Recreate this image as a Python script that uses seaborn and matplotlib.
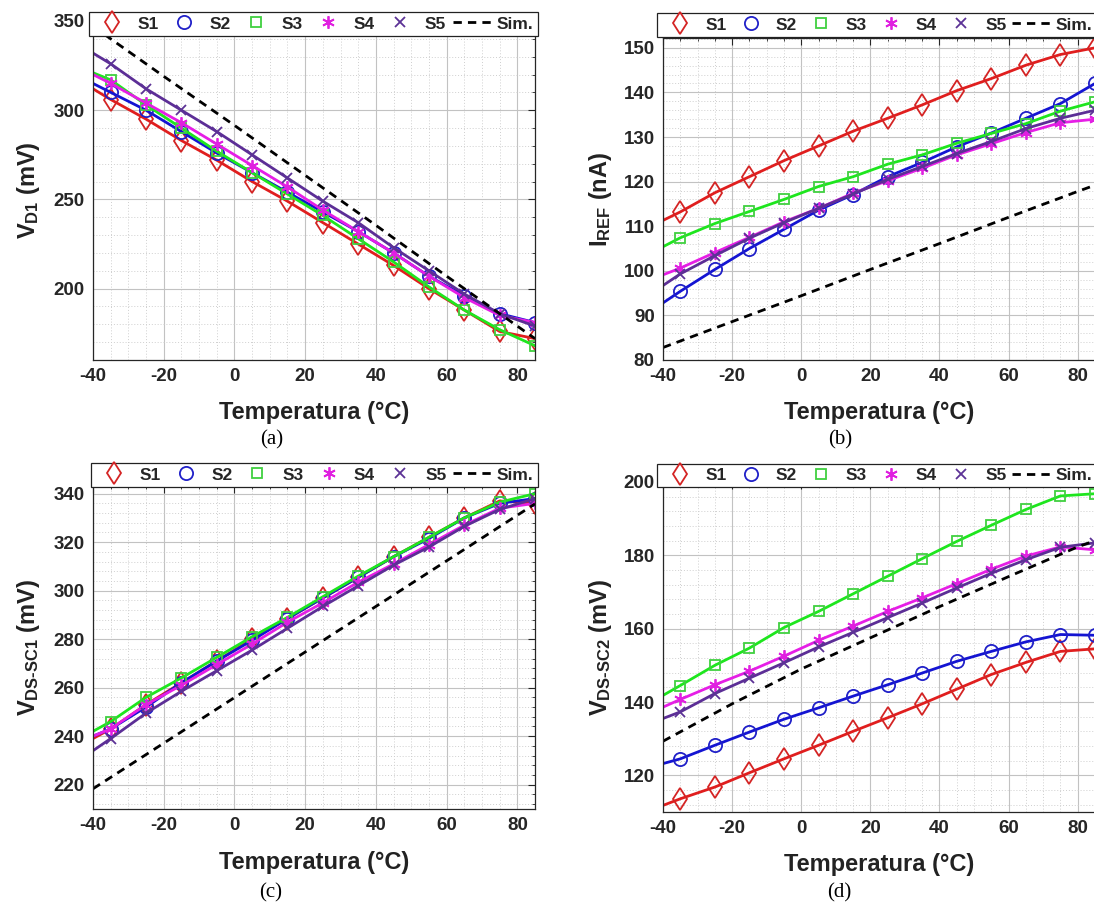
import matplotlib
matplotlib.use("Agg")
import matplotlib.pyplot as plt
from matplotlib.lines import Line2D
from matplotlib.ticker import MultipleLocator
import pandas as pd
import seaborn as sns

# ---------------- data ----------------
temp = [-40, -35, -25, -15, -5, 5, 15, 25, 35, 45, 55, 65, 75, 85]
sim_temp = [-40, -20, 0, 20, 40, 60, 80, 85]
series_names = ["S1", "S2", "S3", "S4", "S5"]

# (a) V_D1 (mV)
vd1_s1 = [312, 306, 295, 283, 272, 260, 249, 237, 225, 213, 200, 188, 176, 172]
vd1_s2 = [315, 310, 300, 288, 276, 265, 254, 243, 232, 220, 207, 196, 186, 181]
vd1_s3 = [321, 317, 303, 290, 277, 265, 253, 241, 228, 215, 201, 188, 177, 168]
vd1_s4 = [320, 315, 304, 293, 281, 269, 257, 244, 232, 220, 207, 195, 185, 181]
vd1_s5 = [332, 326, 312, 300, 288, 275, 262, 249, 237, 223, 210, 197, 186, 179]
vd1_sim = [347, 319, 291.5, 263.5, 235.5, 207, 179, 172]

# (b) I_REF (nA)
iref_s1 = [111.3, 113.2, 117.5, 121.1, 124.7, 128.0, 131.3, 134.2, 137.2, 140.4, 143.1, 146.1, 148.5, 150.0]
iref_s2 = [92.8, 95.4, 100.3, 105.0, 109.3, 113.6, 117.1, 121.1, 124.3, 127.8, 130.9, 134.2, 137.5, 142.0]
iref_s3 = [105.4, 107.4, 110.6, 113.3, 116.0, 118.9, 121.1, 123.9, 126.0, 128.6, 130.8, 133.0, 135.8, 137.9]
iref_s4 = [99.1, 100.6, 104.1, 107.5, 111.0, 114.0, 117.4, 120.2, 123.0, 126.0, 128.5, 131.0, 133.2, 134.0]
iref_s5 = [96.7, 99.3, 103.4, 107.3, 110.8, 114.0, 117.2, 120.5, 123.4, 126.3, 129.0, 131.9, 134.2, 136.0]
iref_sim = [82.8, 88.6, 94.4, 100.3, 106.1, 112.0, 117.8, 119.2]

# (c) V_DS-SC1 (mV)
vsc1_s1 = [239, 243, 253, 262, 271, 280, 288.5, 297, 305.5, 314, 322, 330, 337, 336]
vsc1_s2 = [240, 243, 252, 262, 271, 279.5, 288.5, 297, 305.5, 314, 321.5, 330, 336, 338]
vsc1_s3 = [242, 246, 256, 264, 272.5, 281, 289, 297.5, 306, 314, 322, 330, 336.5, 340]
vsc1_s4 = [240, 243, 253, 261, 269.5, 278, 287, 295, 303.5, 311, 319, 327, 334, 336]
vsc1_s5 = [234, 239, 249.5, 258.5, 267, 275.5, 284.5, 293.5, 302, 310.5, 318, 326.5, 333.5, 338]
vsc1_sim = [218.3, 237.1, 255.9, 274.7, 293.5, 312.3, 331.1, 335.8]

# (d) V_DS-SC2 (mV)
vsc2_s1 = [111.8, 113.6, 116.8, 120.7, 124.5, 128.2, 132.0, 135.7, 139.5, 143.5, 147.5, 150.8, 153.8, 154.5]
vsc2_s2 = [123.2, 124.5, 128.2, 131.8, 135.3, 138.4, 141.6, 144.7, 147.9, 151.1, 153.8, 156.4, 158.4, 158.2]
vsc2_s3 = [141.8, 144.5, 150.0, 154.7, 160.3, 164.7, 169.5, 174.3, 179.1, 183.8, 188.2, 192.5, 196.2, 196.8]
vsc2_s4 = [138.6, 140.7, 144.7, 148.4, 152.5, 156.8, 160.7, 164.7, 168.4, 172.3, 176.2, 179.8, 182.3, 181.5]
vsc2_s5 = [135.5, 137.3, 142.3, 146.5, 150.7, 155.0, 159.0, 163.0, 167.0, 171.1, 175.1, 178.8, 182.2, 183.4]
vsc2_sim = [129.3, 139.5, 149.0, 157.5, 166.0, 174.2, 182.3, 184.0]

# ---------------- style ----------------
sns.set_style("white")
plt.rcParams["font.family"] = ["Liberation Sans", "DejaVu Sans"]
plt.rcParams["font.weight"] = "bold"
plt.rcParams["axes.unicode_minus"] = False
plt.rcParams["mathtext.fontset"] = "custom"
plt.rcParams["mathtext.rm"] = "Liberation Sans:bold"
plt.rcParams["mathtext.bf"] = "Liberation Sans:bold"
plt.rcParams["mathtext.it"] = "Liberation Sans:bold:italic"

line_colors = ["#e01e1e", "#1414d2", "#1ee61e", "#e61ee6", "#5c2e96"]
marker_colors = ["#d42424", "#2020c8", "#40d040", "#e020e0", "#5c3296"]
markers = ["d", "o", "s", (6, 2, 0), "x"]
marker_sizes = [11.5, 9.5, 7.5, 9, 7.5]

W, H = 1094, 905
fig = plt.figure(figsize=(W / 100, H / 100), dpi=100)


def rect(l, t, r, b):
    return [l / W, 1 - b / H, (r - l) / W, (b - t) / H]


panels = [
    dict(box=(93, 21, 535, 360), data=[vd1_s1, vd1_s2, vd1_s3, vd1_s4, vd1_s5], sim=vd1_sim,
         ylim=(160, 350), major=50, minor=10, ylabel="V$_{\\mathbf{D1}}$ (mV)",
         leg=(89, 12, 538, 36), cap="(a)", cap_xy=(272, 440), xlab_y=412, right_ticks=True),
    dict(box=(663, 38, 1095, 360), data=[iref_s1, iref_s2, iref_s3, iref_s4, iref_s5], sim=iref_sim,
         ylim=(80, 152.2), major=10, minor=2, ylabel="I$_{\\mathbf{REF}}$ (nA)",
         leg=(657, 13, 1097, 37), cap="(b)", cap_xy=(840, 440), xlab_y=413, right_ticks=False),
    dict(box=(93, 486.4, 535, 808.9), data=[vsc1_s1, vsc1_s2, vsc1_s3, vsc1_s4, vsc1_s5], sim=vsc1_sim,
         ylim=(210, 343), major=20, minor=4, ylabel="V$_{\\mathbf{DS\u2010SC1}}$ (mV)",
         leg=(91, 463, 538, 487), cap="(c)", cap_xy=(271, 893), xlab_y=862, right_ticks=True),
    dict(box=(663, 482, 1095, 812), data=[vsc2_s1, vsc2_s2, vsc2_s3, vsc2_s4, vsc2_s5], sim=vsc2_sim,
         ylim=(110, 200), major=20, minor=4, ylabel="V$_{\\mathbf{DS\u2010SC2}}$ (mV)",
         leg=(657, 464, 1097, 487), cap="(d)", cap_xy=(839, 893), xlab_y=864, right_ticks=False),
]

axis_col = "#262626"

for p in panels:
    l, t, r, b = p["box"]
    ax = fig.add_axes(rect(l, t, r, b))
    for name, vals, lc, mc, m, ms in zip(series_names, p["data"], line_colors,
                                         marker_colors, markers, marker_sizes):
        df = pd.DataFrame({"T": temp, "V": vals})
        sns.lineplot(data=df, x="T", y="V", ax=ax, color=lc, lw=2.0, errorbar=None,
                     marker=m, markevery=list(range(1, len(temp))), ms=ms,
                     mfc="none", mec=mc, mew=1.3)
    dfs = pd.DataFrame({"T": sim_temp, "V": p["sim"]})
    sns.lineplot(data=dfs, x="T", y="V", ax=ax, color="black", lw=2.0, errorbar=None,
                 dashes=False, linestyle=(0, (3, 2.2)))

    ax.set_xlim(-40, 85)
    ax.set_ylim(*p["ylim"])
    ax.xaxis.set_major_locator(MultipleLocator(20))
    ax.xaxis.set_minor_locator(MultipleLocator(5))
    ax.yaxis.set_major_locator(MultipleLocator(p["major"]))
    ax.yaxis.set_minor_locator(MultipleLocator(p["minor"]))
    ax.grid(which="major", color="#c2c2c2", lw=0.8, ls="-")
    ax.grid(which="minor", color="#cfcfcf", lw=0.7, ls=(0, (1, 2)))
    ax.set_axisbelow(True)
    for s in ax.spines.values():
        s.set_visible(True)
        s.set_color(axis_col)
        s.set_linewidth(0.9)
    ax.tick_params(which="both", direction="in", top=True, right=p["right_ticks"], colors=axis_col)
    ax.tick_params(which="major", length=5, width=0.8, labelsize=13.5, pad=6)
    ax.tick_params(which="minor", length=2.5, width=0.6)
    for lab in ax.get_xticklabels() + ax.get_yticklabels():
        lab.set_fontweight("bold")

    ax.set_xlabel("Temperatura (°C)", fontsize=17, fontweight="bold", color="#222222", va="center")
    ax.xaxis.set_label_coords(0.5, -(p["xlab_y"] - b) / (b - t))
    ax.set_ylabel(p["ylabel"], fontsize=17, fontweight="bold", color="#222222", va="center")
    ax.yaxis.set_label_coords(-0.145, 0.5)

    handles = [Line2D([], [], ls="none", marker=m, ms=ms, mfc="none", mec=mc, mew=1.3)
               for m, ms, mc in zip(markers, marker_sizes, marker_colors)]
    handles.append(Line2D([], [], color="black", lw=2.0, ls=(0, (3, 2.2))))
    labels = series_names + ["Sim."]
    ll, lt, lr, lb = p["leg"]
    leg = ax.legend(handles, labels, loc="center",
                    bbox_to_anchor=rect(ll, lt, lr, lb), bbox_transform=fig.transFigure,
                    mode="expand", ncol=6, borderaxespad=0, borderpad=0.25,
                    handlelength=2.2, handletextpad=0.35, columnspacing=0.4,
                    frameon=True, fancybox=False, framealpha=1, edgecolor="#222222",
                    prop=dict(weight="bold", size=12.5))
    leg.get_frame().set_linewidth(0.9)
    leg.set_zorder(10)

    fig.text(p["cap_xy"][0] / W, 1 - p["cap_xy"][1] / H, p["cap"], family="Liberation Serif",
             fontweight="normal", fontsize=15, ha="center", va="center", color="black")

fig.savefig("out.png", dpi=100)
